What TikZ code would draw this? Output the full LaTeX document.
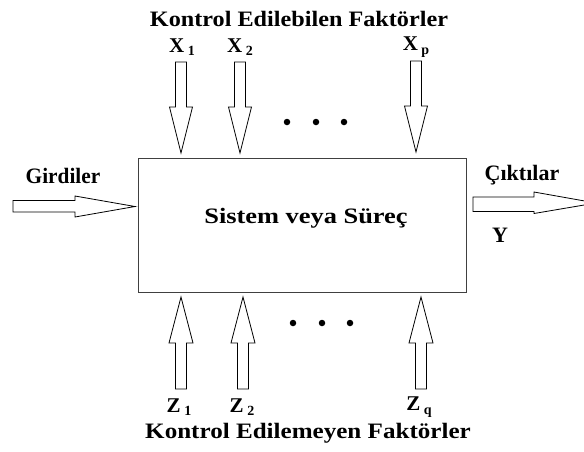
\documentclass[tikz,border=0pt]{standalone}
\usepackage{fontspec}
\setmainfont{Liberation Serif}
\newcommand{\wide}[2]{\scalebox{#1}[1]{#2}}
\newcommand{\sub}[1]{\,\raisebox{-3.5pt}{\fontsize{14}{15}\selectfont #1}}
\begin{document}
\begin{tikzpicture}[x=1pt,y=-1pt,
  lbl/.style={font=\fontsize{22}{26}\selectfont\bfseries, inner sep=0pt},
  var/.style={font=\fontsize{21}{24}\selectfont\bfseries, inner sep=0pt},
  blk/.style={draw=black, line width=0.8pt, fill=white, line join=miter},
  dot/.style={fill=black, circle, inner sep=0pt, minimum size=6.5pt},
  pics/downarrow/.style={code={
    \draw[blk] (0,0) -- (-11.5,-46) -- (-5.5,-46) -- (-5.5,-91)
      -- (5.5,-91) -- (5.5,-46) -- (11.5,-46) -- cycle;}},
  pics/uparrow/.style={code={
    \draw[blk] (0,0) -- (-12,46) -- (-5.5,46) -- (-5.5,92)
      -- (5.5,92) -- (5.5,46) -- (12,46) -- cycle;}}
]
\useasboundingbox (0,0) rectangle (584,451);

% the system box
\node[draw=black!75, line width=1.3pt, minimum width=328pt, minimum height=134pt,
      inner sep=0pt, anchor=north west] (sys) at (138,158) {};
\node[lbl] (systxt) at (306,218) {\wide{1.2}{Sistem veya Süreç}};

% controllable factors (top)
\node[lbl] (toptitle) at (299,19) {\wide{1.1}{Kontrol Edilebilen Faktörler}};
\pic at (181,153) {downarrow};
\pic at (240,153) {downarrow};
\pic at (416,152) {downarrow};
\node[var] (x1) at (182,47) {X\sub{1}};
\node[var] (x2) at (240,47) {X\sub{2}};
\node[var] (xp) at (416,47) {X\sub{p}};
\node[dot] (td1) at (287,122) {};
\node[dot] (td2) at (316,122) {};
\node[dot] (td3) at (344,122) {};

% uncontrollable factors (bottom)
\pic at (181,297) {uparrow};
\pic at (243,297) {uparrow};
\pic at (421,297) {uparrow};
\node[var] (z1) at (179,407) {Z\sub{1}};
\node[var] (z2) at (242,407) {Z\sub{2}};
\node[var] (zq) at (419,407) {Z\sub{q}};
\node[dot] (bd1) at (293,323) {};
\node[dot] (bd2) at (322,323) {};
\node[dot] (bd3) at (350,323) {};
\node[lbl] (bottitle) at (308,433) {\wide{1.14}{Kontrol Edilemeyen Faktörler}};

% inputs
\node[lbl] (in) at (63,176) {\wide{0.97}{Girdiler}};
\draw[blk] (13,200.5) -- (75,200.5) -- (75,196) -- (135,206.5) -- (75,217)
  -- (75,212) -- (13,212) -- cycle;

% outputs
\node[lbl] (out) at (522,175) {Çıktılar};
\node[lbl] (y) at (500,235) {Y};
\draw[blk] (473,197) -- (534,197) -- (534,192) -- (596,203) -- (534,213.5)
  -- (534,211.5) -- (473,211.5) -- cycle;
\end{tikzpicture}
\end{document}
